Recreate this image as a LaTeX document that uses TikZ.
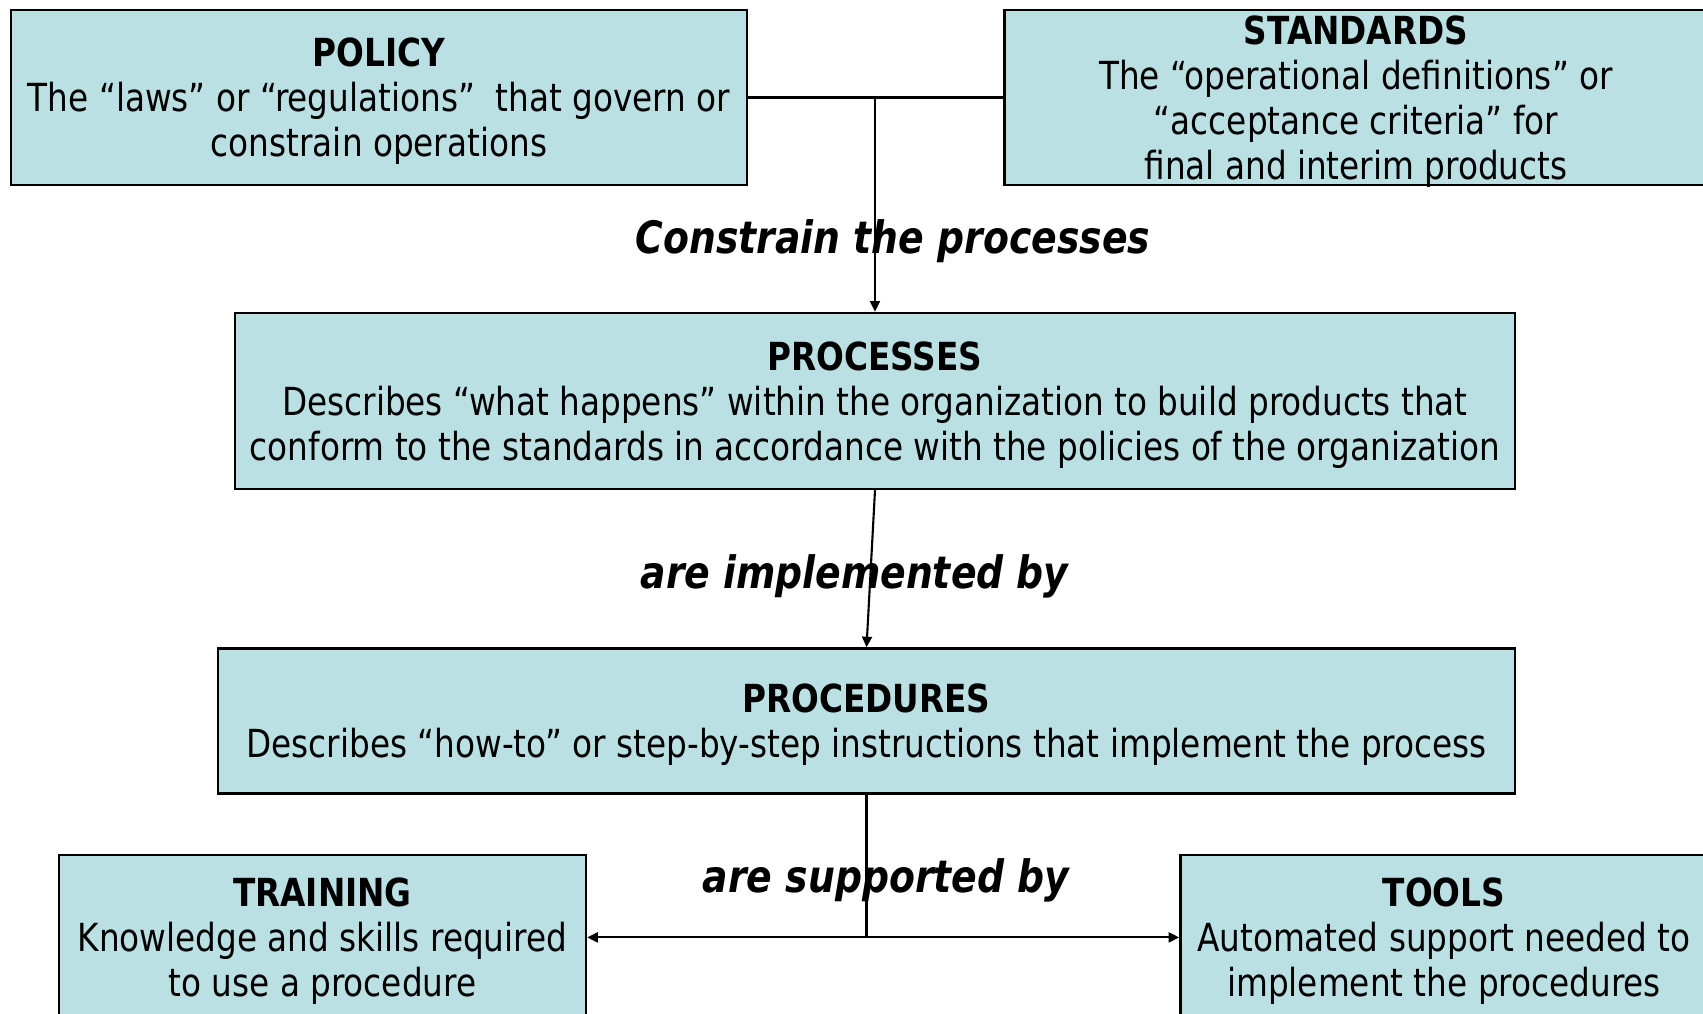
\documentclass[tikz,border=0pt]{standalone}
\usepackage{fontspec}
\setmainfont{DejaVu Sans Condensed}[
  FakeStretch=0.94,
  BoldFont={DejaVu Sans Condensed Bold},
  ItalicFont={DejaVu Sans Condensed Oblique},
  BoldItalicFont={DejaVu Sans Condensed Bold Oblique}]
\usetikzlibrary{arrows.meta,positioning}
\definecolor{cBox}{HTML}{BBE0E3}

\begin{document}
\begin{tikzpicture}[
  font=\fontsize{11}{12.8}\selectfont,
  box/.style={draw, fill=cBox, line width=0.7pt, inner sep=0pt, text depth=0pt, align=center},
  link/.style={line width=0.6pt},
  arr/.style={-{Triangle[length=3pt, width=2.8pt]}, line width=0.6pt},
  lab/.style={font=\fontsize{12.7}{15}\selectfont\bfseries\itshape},
]
\fill[white] (0,0) rectangle (170.3mm,-101.3mm);
\useasboundingbox (0,0) rectangle (170.3mm,-101.3mm);

% ── top row ───────────────────────────────────────────────────────────────
\node[box, minimum width=73.6mm, minimum height=17.5mm] (pol) at (37.9mm,-9.75mm)
  {\textbf{POLICY}\\The “laws” or “regulations”\ \ that govern or\\constrain operations};
\node[box, minimum width=70.3mm, minimum height=17.5mm, right=25.5mm of pol] (std)
  {\textbf{STANDARDS}\\The “operational definitions” or\\“acceptance criteria” for\\final and interim products};

% ── middle ────────────────────────────────────────────────────────────────
\node[box, minimum width=128mm, minimum height=17.6mm] (proc) at (87.5mm,-40.1mm)
  {\textbf{PROCESSES}\\Describes “what happens” within the organization to build products that\\conform to the standards in accordance with the policies of the organization};
\node[box, minimum width=129.7mm, minimum height=14.5mm, below=15.7mm of proc, xshift=-0.85mm] (proced)
  {\textbf{PROCEDURES}\\Describes “how-to” or step-by-step instructions that implement the process};

% ── bottom row ────────────────────────────────────────────────────────────
\node[box, minimum width=52.7mm, minimum height=16.5mm, below=5.9mm of proced.south west, anchor=north west, xshift=-15.9mm] (train)
  {\textbf{TRAINING}\\Knowledge and skills required\\to use a procedure};
\node[box, minimum width=52.7mm, minimum height=16.5mm, right=59.2mm of train] (tools)
  {\textbf{TOOLS}\\Automated support needed to\\implement the procedures};

% ── labels ────────────────────────────────────────────────────────────────
\node[lab] (lcon) at (89.3mm,-24.1mm) {Constrain the processes};
\node[lab] (limp) at (85.45mm,-57.6mm) {are implemented by};
\node[lab] (lsup) at (88.6mm,-88.0mm) {are supported by};

% ── connectors ────────────────────────────────────────────────────────────
\draw[link] (pol.east) -- (std.west);
\draw[arr] (proc.north |- pol.east) -- (proc.north);
\draw[arr] (proc.south) -- (proced.north);
\draw[link] (proced.south) -- (proced.south |- train.east) coordinate (split);
\draw[arr] (split) -- (train.east);
\draw[arr] (split) -- (tools.west);
\end{tikzpicture}
\end{document}
